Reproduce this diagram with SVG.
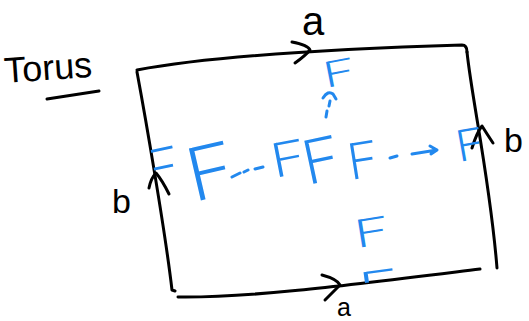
<svg xmlns="http://www.w3.org/2000/svg" width="529" height="321" viewBox="0 0 529 321">
<style>
.ln{fill:none;stroke:#000;stroke-width:3;stroke-linecap:round;stroke-linejoin:round}
.bl{fill:none;stroke:#2288ee;stroke-width:3;stroke-linecap:round;stroke-linejoin:round}
.f{fill:#2288ee;font-family:Roboto,Inter,"DejaVu Sans",sans-serif;font-weight:300}
.lab{fill:#000;font-family:"Liberation Sans",Arial,sans-serif}
</style>
<defs>
<clipPath id="inside">
<path d="M137,72 C145,115 165,230 172,290 L178,297 C250,298 350,285 480,269 L497,268 C490,180 472,100 467,52 L462,45 C300,50 200,58 137,70 Z"/>
</clipPath>
</defs>
<rect width="529" height="321" fill="#fff"/>
<g id="title">
<text class="lab" x="5" y="83" font-size="36" transform="rotate(-4 5 83)">Torus</text>
<path class="ln" d="M47,99 L99,91"/>
</g>
<g id="square">
<path class="ln" d="M137,70 C200,58 300,50 462,45 Q467,45 467,52"/>
<path class="ln" d="M467,52 C472,100 490,180 497,268"/>
<path class="ln" d="M137,72 C145,115 165,230 172,290 L175,291"/>
<path class="ln" d="M178,297 C250,298 350,285 480,269"/>
</g>
<g id="edge-labels">
<path class="ln" d="M292,42 Q308,45 310,50 Q305,56 295,63"/>
<text class="lab" x="302" y="35" font-size="40">a</text>
<path class="ln" d="M322,275 Q337,279 340,285 Q333,292 325,300"/>
<text class="lab" x="337" y="316" font-size="25">a</text>
<path class="ln" d="M149,188 Q151,178 156,173 Q162,180 169,194"/>
<text class="lab" x="112" y="213" font-size="34">b</text>
<path class="ln" d="M472,148 Q477,132 482,126 Q487,134 493,143"/>
<text class="lab" x="504" y="152" font-size="34">b</text>
</g>
<g id="fs" clip-path="url(#inside)">
<text id="f-top" class="f" font-size="36" transform="translate(326,88) rotate(-11) scale(1.5,1)">F</text>
<text id="f-left" class="f" font-size="55" transform="translate(146,191) rotate(-12) scale(1.2,1)">F</text>
<text id="f-big" class="f" font-size="75" transform="translate(194,202) rotate(-13) scale(1.05,1)">F</text>
<text id="f-a" class="f" font-size="48" transform="translate(275,178) rotate(-11) scale(1.2,1)">F</text>
<text id="f-b" class="f" font-size="62" transform="translate(308,185) rotate(-12) scale(1,1)">F</text>
<text id="f-c" class="f" font-size="51" transform="translate(351,180) rotate(-9) scale(1,1)">F</text>
<text id="f-right" class="f" font-size="44" transform="translate(459,162) rotate(-10) scale(1.1,1)">F</text>
<text id="f-bot" class="f" font-size="39" transform="translate(357,248) rotate(-9) scale(1.5,1)">F</text>
<text id="f-botcut" class="f" font-size="44" transform="translate(362,304) rotate(-8) scale(1.5,1)">F</text>
</g>
<g id="connectors">
<path class="bl" d="M323,98 Q328,90 333,94 L336,99"/>
<path class="bl" d="M330,101 L329,106 M327,111 L326,117"/>
<path class="bl" d="M232,177 L240,173 M244,172 L248,170 M255,169 L263,167"/>
<path class="bl" d="M390,158 L397,156 M412,154 L437,150 M430,146 L437,150 L431,154"/>
</g>
</svg>
